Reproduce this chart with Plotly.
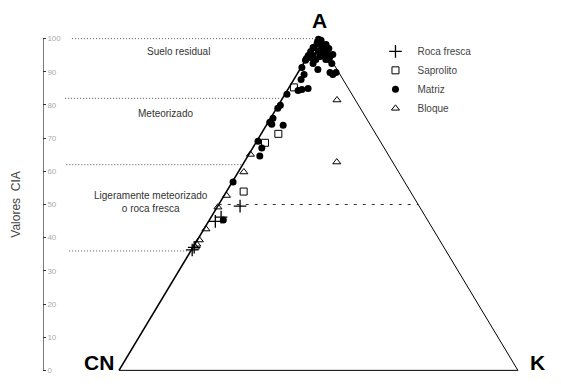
import plotly.graph_objects as go

# ---------------- data: composition in % (A = Al2O3, K = K2O, CN = remainder) -------------
roca_A = [49.5, 44.9, 46.2, 37.1, 36.3]
roca_K = [5.6, 1.7, 2.5, 0.3, 0.2]

sapro_A = [85.3, 71.3, 68.6, 53.9]
sapro_K = [1.2, 4.3, 2.3, 4.3]

matriz_A = [99.6, 98.5, 98.8, 97.3, 97.3, 96.1, 96.1, 96.1, 94.9, 94.9, 94.9, 94.6,
            94.0, 93.7, 93.7, 91.3, 92.5, 90.7, 92.5, 89.2, 87.7, 89.8, 89.2, 89.8,
            84.4, 84.7, 85.0, 83.2, 79.9, 73.9, 74.8, 74.2, 69.1, 67.0, 64.6, 56.8,
            45.3, 79.0, 76.0,
            99.8, 99.2, 99.5, 98.5, 97.3, 98.2, 97.0, 96.7, 95.5, 95.2, 93.5, 94.3,
            94.6, 93.7]
matriz_K = [0.2, 0.4, 1.2, 0.3, 2.7, 0.0, 1.9, 4.1, 0.0, 1.2, 3.4, 5.6,
            0.0, 2.5, 5.0, 0.2, 2.4, 4.5, 7.1, 1.8, 1.8, 8.0, 9.0, 9.5,
            2.7, 3.5, 4.9, 0.5, 0.5, 4.2, 0.4, 1.2, 0.3, 2.3, 3.0, 0.2,
            3.5, 0.3, 0.6,
            0.1, 0.2, 0.9, 1.1, 0.0, 2.8, 4.1, 2.3, 3.9, 6.0, 0.0, 1.0,
            3.1, 5.8]

bloque_A = [81.5, 62.8, 65.1, 59.8, 52.7, 49.2, 42.6, 39.3, 38.0, 37.1]
bloque_K = [13.9, 23.2, 0.4, 1.4, 0.6, 0.2, 0.5, 0.5, 0.5, 0.6]

cia_ticks = [0, 10, 20, 30, 40, 50, 60, 70, 80, 90, 100]
zone_limits = [100, 82, 62, 36]
zone_labels = ["Suelo residual", "Meteorizado", "Ligeramente meteorizado<br>o roca fresca"]


def to_x(A, K):
    # horizontal position in the A-CN-K triangle (CN = 0, K = 100)
    return [k + a / 2.0 for a, k in zip(A, K)]


FONT = "Arial, Liberation Sans, sans-serif"
X_LEFT = -19.05

fig = go.Figure()

fig.add_trace(go.Scatter(
    x=to_x(roca_A, roca_K), y=roca_A, mode="markers", name="Roca fresca",
    marker=dict(symbol="cross-thin", size=9, color="black", line=dict(width=1.3, color="black"))))
fig.add_trace(go.Scatter(
    x=to_x(sapro_A, sapro_K), y=sapro_A, mode="markers", name="Saprolito",
    marker=dict(symbol="square-open", size=7, color="black", line=dict(width=1, color="black"))))
fig.add_trace(go.Scatter(
    x=to_x(matriz_A, matriz_K), y=matriz_A, mode="markers", name="Matriz",
    marker=dict(symbol="circle", size=7, color="black", line=dict(width=0))))
fig.add_trace(go.Scatter(
    x=to_x(bloque_A, bloque_K), y=bloque_A, mode="markers", name="Bloque",
    marker=dict(symbol="triangle-up-open", size=7, color="black", line=dict(width=1, color="black"))))

shapes = []
# CIA axis line (0-100)
shapes.append(dict(type="line", xref="x", yref="y", x0=X_LEFT, y0=0, x1=X_LEFT, y1=100,
                   line=dict(color="#333333", width=1.3)))
# triangle frame
shapes.append(dict(type="line", xref="x", yref="y", x0=0, y0=0, x1=50, y1=100,
                   line=dict(color="black", width=1.6)))
shapes.append(dict(type="line", xref="x", yref="y", x0=50, y0=100, x1=100, y1=0,
                   line=dict(color="black", width=1)))
shapes.append(dict(type="line", xref="x", yref="y", x0=0, y0=0, x1=100, y1=0,
                   line=dict(color="black", width=1)))
# dotted zone limits
starts = [-11.8, -13.5, -13.2, -12.5]
for v, s in zip(zone_limits, starts):
    shapes.append(dict(type="line", xref="x", yref="y", x0=s, y0=v, x1=v / 2.0, y1=v,
                       line=dict(color="#555555", width=1, dash="1px,2px")))
# dashed CIA 50 line across triangle
shapes.append(dict(type="line", xref="x", yref="y", x0=25, y0=50, x1=75, y1=50,
                   line=dict(color="#333333", width=1, dash="3px,6px")))

annotations = [
    dict(x=14.8, y=96.2, text=zone_labels[0]),
    dict(x=11.6, y=77.5, text=zone_labels[1]),
    dict(x=8.1, y=50.8, text=zone_labels[2]),
]
for a in annotations:
    a.update(xref="x", yref="y", showarrow=False, align="center",
             font=dict(family=FONT, size=10, color="#333333"))

annotations += [
    dict(x=-0.8, y=2.3, xref="x", yref="y", text="<b>CN</b>", showarrow=False,
         xanchor="right", yanchor="middle", font=dict(family=FONT, size=21, color="black")),
    dict(x=102.5, y=2.3, xref="x", yref="y", text="<b>K</b>", showarrow=False,
         xanchor="left", yanchor="middle", font=dict(family=FONT, size=21, color="black")),
    dict(x=50.3, y=1.032, xref="x", yref="paper", text="<b>A</b>", showarrow=False,
         xanchor="center", yanchor="middle", font=dict(family=FONT, size=21, color="black")),
]

fig.update_layout(
    width=561, height=388,
    margin=dict(l=43, r=8, t=32, b=11),
    paper_bgcolor="white", plot_bgcolor="white",
    font=dict(family=FONT),
    shapes=shapes, annotations=annotations,
    showlegend=True,
    legend=dict(x=0.648, y=0.986, xanchor="left", yanchor="top", itemwidth=34,
                font=dict(family=FONT, size=10, color="#444444"),
                bgcolor="rgba(0,0,0,0)", borderwidth=0, tracegroupgap=0),
    xaxis=dict(range=[X_LEFT, 108.8], visible=False, fixedrange=True, automargin=False),
    yaxis=dict(range=[-2, 102], tickvals=cia_ticks, ticks="inside", ticklen=3,
               tickcolor="#333333", showline=False, automargin=False, fixedrange=True,
               ticklabelposition="inside", showgrid=False, zeroline=False,
               tickfont=dict(family=FONT, size=8, color="#aaaaaa"),
               title=dict(text="Valores  CIA", standoff=24,
                          font=dict(family=FONT, size=12, color="#444444"))),
)

fig.write_html("out.html", config={"displayModeBar": False},
               post_script="document.body.style.margin='0';document.body.style.padding='0';")
